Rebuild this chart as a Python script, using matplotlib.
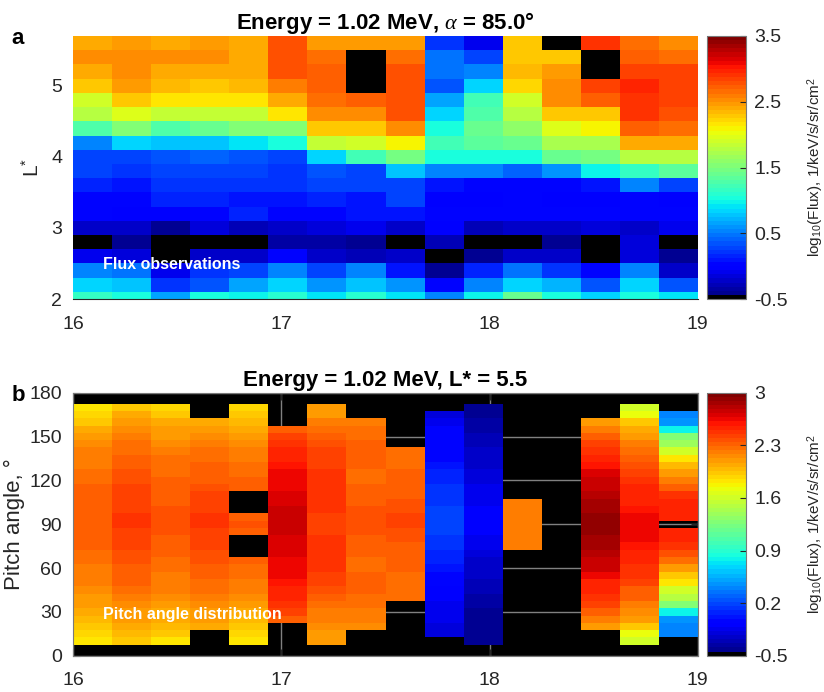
"""Flux observations (L* vs UT) and pitch angle distribution at L* = 5.5."""
import matplotlib
matplotlib.use("Agg")
import matplotlib.pyplot as plt
import numpy as np
from matplotlib.colors import ListedColormap

plt.rcParams["font.family"] = ["Liberation Sans", "DejaVu Sans"]
plt.rcParams["mathtext.fontset"] = "custom"
plt.rcParams["mathtext.rm"] = "Liberation Sans"
plt.rcParams["mathtext.it"] = "Liberation Serif:italic"
plt.rcParams["mathtext.bf"] = "Liberation Sans:bold"

nan = np.nan

# ---- data -------------------------------------------------------------
ut_hours = 16 + 0.1875 * (np.arange(16) + 0.5)          # column centres, h
lstar = [5.6, 5.4, 5.2, 5.0, 4.8, 4.6, 4.4, 4.2, 4.0, 3.8,
         3.6, 3.4, 3.2, 3.0, 2.8, 2.6, 2.4, 2.2, 2.0]
pitch = [170, 165, 160, 155, 150, 145, 140, 135, 130, 125, 120,
         115, 110, 105, 100, 95, 90, 85, 80, 75, 70, 65, 60, 55,
         50, 45, 40, 35, 30, 25, 20, 15, 10]

# log10 flux, one row per L* (top row = 5.6)
flux_l = [
    [2.40, 2.45, 2.40, 2.45, 2.40, 2.75, 2.45, 2.45, 2.45, 0.20, -0.10, 2.25, nan, 2.90, 2.65, 2.55],
    [2.50, 2.55, 2.50, 2.50, 2.40, 2.75, 2.65, nan, 2.65, 0.45, 0.25, 2.30, 2.30, nan, 2.70, 2.65],
    [2.40, 2.50, 2.40, 2.40, 2.40, 2.75, 2.70, nan, 2.80, 0.45, 0.50, 2.35, 2.45, nan, 2.85, 2.85],
    [2.30, 2.45, 2.35, 2.30, 2.35, 2.60, 2.70, nan, 2.80, 0.35, 0.85, 2.20, 2.50, 2.85, 2.95, 2.85],
    [1.90, 2.25, 2.15, 2.15, 2.15, 2.40, 2.65, 2.70, 2.80, 0.65, 1.20, 1.90, 2.50, 2.70, 2.90, 2.85],
    [1.75, 1.95, 1.85, 1.85, 1.85, 2.15, 2.50, 2.50, 2.75, 0.85, 1.30, 1.75, 2.30, 2.30, 2.90, 2.80],
    [1.30, 1.55, 1.30, 1.40, 1.55, 1.55, 2.30, 2.30, 2.50, 1.00, 1.40, 1.60, 1.95, 2.10, 2.70, 2.65],
    [0.55, 0.85, 0.80, 0.80, 0.90, 1.00, 1.85, 1.90, 2.10, 1.20, 1.35, 1.40, 1.70, 1.70, 2.40, 2.40],
    [0.30, 0.30, 0.35, 0.40, 0.35, 0.30, 0.85, 1.20, 1.45, 1.00, 1.00, 1.05, 1.40, 1.45, 1.75, 1.80],
    [0.25, 0.20, 0.25, 0.25, 0.25, 0.20, 0.35, 0.30, 0.75, 0.50, 0.50, 0.40, 0.62, 0.95, 1.15, 1.35],
    [0.15, 0.12, 0.20, 0.20, 0.20, 0.20, 0.30, 0.25, 0.30, 0.10, 0.05, 0.05, 0.05, 0.10, 0.55, 0.30],
    [0.05, 0.05, 0.15, 0.15, 0.10, 0.10, 0.15, 0.10, 0.25, -0.05, -0.05, 0.00, -0.05, -0.05, 0.00, -0.05],
    [0.05, -0.05, -0.05, 0.05, 0.15, 0.05, 0.05, 0.10, 0.12, 0.05, 0.05, 0.05, 0.00, 0.00, 0.00, 0.00],
    [-0.20, -0.25, -0.40, -0.15, -0.30, -0.20, -0.15, -0.10, -0.20, -0.05, -0.30, -0.20, -0.20, -0.15, -0.20, -0.10],
    [nan, -0.40, nan, nan, nan, -0.35, -0.35, -0.42, nan, -0.30, nan, nan, -0.42, nan, -0.15, nan],
    [-0.08, -0.15, nan, -0.20, -0.25, 0.00, -0.20, -0.30, -0.25, nan, -0.40, -0.20, -0.20, nan, -0.15, -0.40],
    [0.50, 0.45, -0.10, 0.20, 0.25, 0.50, 0.25, 0.50, 0.10, -0.42, 0.15, 0.45, 0.20, 0.00, 0.50, -0.20],
    [0.85, 0.80, 0.20, 0.35, 0.65, 0.85, 0.60, 0.80, 0.60, 0.05, 0.50, 0.82, 0.70, 0.35, 0.85, 0.35],
    [1.15, 1.00, 0.65, 1.00, 0.95, 1.10, 0.90, 1.10, 0.90, 0.55, 0.95, 1.40, 1.00, 0.85, 1.00, 0.90],
]

# log10 flux at L* = 5.5, one list per UT column (pitch 170 -> 10)
pad_c01 = [1.82, 1.86, 1.93, 2.02, 2.08, 2.14, 2.19, 2.21, 2.23, 2.26, 2.27, 2.30, 2.32, 2.32, 2.34, 2.34, 2.34,
           2.34, 2.32, 2.30, 2.27, 2.26, 2.23, 2.21, 2.19, 2.14, 2.12, 2.08, 2.04, 2.00, 1.93, 1.88, 1.82]
pad_c02 = [1.95, 2.02, 2.08, 2.14, 2.19, 2.24, 2.27, 2.32, 2.34, 2.37, 2.39, 2.40, 2.42, 2.43, 2.45, 2.46, 2.46,
           2.45, 2.43, 2.41, 2.39, 2.37, 2.34, 2.32, 2.30, 2.26, 2.21, 2.17, 2.12, 2.08, 2.02, 1.97, 1.91]
pad_c03 = [1.88, 1.95, 2.02, 2.08, 2.12, 2.17, 2.21, 2.24, 2.26, 2.27, 2.30, 2.32, 2.33, 2.34, 2.36, 2.37, 2.37,
           2.36, 2.34, 2.33, 2.30, 2.28, 2.26, 2.23, 2.21, 2.19, 2.15, 2.10, 2.06, 2.02, 1.97, 1.91, 1.84]
pad_c04 = [nan, nan, 2.04, 2.10, 2.17, 2.21, 2.26, 2.27, 2.30, 2.33, 2.34, 2.39, 2.40, 2.43, 2.45, 2.46, 2.46,
           2.45, 2.43, 2.40, 2.39, 2.37, 2.34, 2.32, 2.28, 2.25, 2.21, 2.17, 2.12, 2.08, 2.04, nan, nan]
pad_c05 = [1.88, 1.93, 2.00, 2.06, 2.10, 2.15, 2.19, 2.23, 2.26, 2.28, 2.30, 2.32, nan, nan, nan, 2.30, 2.37,
           2.30, nan, nan, nan, 2.30, 2.28, 2.26, 2.23, 2.19, 2.15, 2.10, 2.06, 2.00, 1.93, 1.88, 1.82]
pad_c06 = [nan, nan, nan, 2.34, 2.43, 2.49, 2.54, 2.56, 2.60, 2.63, 2.65, 2.67, 2.70, 2.72, 2.74, 2.74, 2.74,
           2.74, 2.72, 2.70, 2.68, 2.67, 2.65, 2.62, 2.59, 2.56, 2.54, 2.49, 2.43, 2.34, nan, nan, nan]
pad_c07 = [2.08, 2.12, 2.19, 2.26, 2.32, 2.37, 2.40, 2.43, 2.43, 2.46, 2.46, 2.46, 2.47, 2.47, 2.46, 2.43, 2.43,
           2.45, 2.46, 2.47, 2.47, 2.46, 2.46, 2.43, 2.40, 2.37, 2.32, 2.27, 2.23, 2.19, 2.14, 2.12, 2.08]
pad_c08 = [nan, nan, 2.21, 2.24, 2.27, 2.30, 2.30, 2.30, 2.30, 2.28, 2.28, 2.30, 2.32, 2.34, 2.37, 2.39, 2.39,
           2.37, 2.34, 2.32, 2.30, 2.28, 2.28, 2.30, 2.30, 2.30, 2.28, 2.26, 2.23, 2.21, 2.17, nan, nan]
pad_c09 = [nan, nan, nan, nan, nan, nan, 2.26, 2.27, 2.28, 2.30, 2.32, 2.33, 2.34, 2.37, 2.39, 2.40, 2.40,
           2.39, 2.37, 2.34, 2.33, 2.32, 2.30, 2.28, 2.27, 2.26, 2.26, nan, nan, nan, nan, nan, nan]
pad_c10 = [nan, -0.20, -0.15, -0.02, -0.02, -0.02, -0.06, -0.02, 0.04, 0.07, 0.10, 0.11, 0.13, 0.13, 0.16, 0.16, 0.16,
           0.16, 0.13, 0.11, 0.10, 0.07, 0.04, -0.02, -0.06, -0.07, -0.10, -0.12, -0.15, -0.17, -0.20, -0.20, nan]
pad_c11 = [-0.41, -0.40, -0.37, -0.34, -0.33, -0.31, -0.28, -0.26, -0.24, -0.22, -0.19, -0.17, -0.15, -0.12, -0.11, -0.09, -0.09,
           -0.11, -0.13, -0.17, -0.19, -0.24, -0.26, -0.28, -0.31, -0.33, -0.34, -0.37, -0.40, -0.41, -0.41, -0.43, -0.43]
pad_c12 = [nan, nan, nan, nan, nan, nan, nan, nan, nan, nan, nan, nan, nan, 2.23, 2.23, 2.23, 2.23,
           2.23, 2.23, 2.23, nan, nan, nan, nan, nan, nan, nan, nan, nan, nan, nan, nan, nan]
pad_c13 = [nan] * 33
pad_c14 = [nan, nan, 2.08, 2.23, 2.34, 2.43, 2.49, 2.53, 2.60, 2.70, 2.74, 2.78, 2.81, 2.84, 2.89, 2.91, 2.93,
           2.91, 2.89, 2.84, 2.81, 2.78, 2.74, 2.65, 2.56, 2.53, 2.49, 2.43, 2.34, 2.21, 2.08, nan, nan]
pad_c15 = [1.60, 1.69, 1.91, 2.04, 2.12, 2.19, 2.26, 2.30, 2.37, 2.43, 2.47, 2.52, 2.54, 2.56, 2.60, 2.63, 2.65,
           2.65, 2.63, 2.60, 2.56, 2.53, 2.49, 2.46, 2.40, 2.34, 2.30, 2.23, 2.17, 2.08, 1.95, 1.73, 1.60]
pad_c16 = [nan, 0.38, 0.46, 0.81, 1.25, 1.38, 1.60, 1.82, 2.00, 2.08, 2.21, 2.34, 2.47, 2.52, 2.52, 2.53, nan,
           2.52, 2.52, 2.47, 2.39, 2.26, 2.12, 1.95, 1.82, 1.60, 1.47, 1.25, 0.81, 0.46, 0.38, 0.38, nan]
pad_columns = [pad_c01, pad_c02, pad_c03, pad_c04, pad_c05, pad_c06, pad_c07, pad_c08,
               pad_c09, pad_c10, pad_c11, pad_c12, pad_c13, pad_c14, pad_c15, pad_c16]

cb1_ticks = [-0.5, 0.5, 1.5, 2.5, 3.5]
cb1_labels = ["-0.5", "0.5", "1.5", "2.5", "3.5"]
cb2_ticks = [-0.5, 0.2, 0.9, 1.6, 2.3, 3.0]
cb2_labels = ["-0.5", "0.2", "0.9", "1.6", "2.3", "3"]

# ---- colormap: jet(64) with black in the lowest slot ------------------
cols = plt.get_cmap("jet", 64)(np.arange(64))
cols[0] = [0, 0, 0, 1]
cmap = ListedColormap(cols)

DARK = "#262626"
W, H = 824, 692
fig = plt.figure(figsize=(W / 100, H / 100), dpi=100)


def px(left, top, right, bottom):
    return [left / W, 1 - bottom / H, (right - left) / W, (bottom - top) / H]


ax1 = fig.add_axes(px(73.3, 36, 697.7, 299))
cax1 = fig.add_axes(px(706.7, 36, 746, 299))
ax2 = fig.add_axes(px(73.3, 392.7, 697.7, 655.7))
cax2 = fig.add_axes(px(706.7, 392.7, 746, 655.7))

# ─── (a) flux vs L* ──────────────────────────────────────────────────
z1 = np.ma.masked_invalid(np.array(flux_l, dtype=float))
m1 = ax1.pcolormesh(ut_hours, lstar, z1, cmap=cmap, vmin=-0.5, vmax=3.5,
                    shading="nearest")
ax1.set_facecolor("black")
ax1.set_xlim(16, 19)
ax1.set_ylim(2, 5.7)
ax1.set_xticks([16, 17, 18, 19])
ax1.set_yticks([2, 3, 4, 5])
for s in ["top", "right", "left"]:
    ax1.spines[s].set_visible(False)
ax1.spines["bottom"].set_color(DARK)
ax1.tick_params(length=0, labelsize=14, labelcolor=DARK)
ax1.tick_params(axis="x", pad=12)
ax1.tick_params(axis="y", pad=8)
ax1.set_ylabel("L$^{*}$", fontsize=15, color=DARK, labelpad=6)
ax1.set_title(r"Energy = 1.02 MeV, $\alpha$ = 85.0°", fontsize=16,
              fontweight="bold", pad=5)
ax1.text(16.143, 2.49, "Flux observations", color="white", fontsize=11.5,
         fontweight="bold", va="center")

cb1 = fig.colorbar(m1, cax=cax1, ticks=cb1_ticks)
cb1.ax.set_yticklabels(cb1_labels)

# ─── (b) pitch angle distribution ───────────────────────────────────
z2 = np.ma.masked_invalid(np.array(pad_columns, dtype=float).T)
ax2.set_facecolor("black")
ax2.set_axisbelow(True)
ax2.grid(True, color="#808080", lw=1.0)
m2 = ax2.pcolormesh(ut_hours, pitch, z2, cmap=cmap, vmin=-0.5, vmax=3.0,
                    shading="nearest", zorder=1)
ax2.set_xlim(16, 19)
ax2.set_ylim(0, 180)
ax2.set_xticks([16, 17, 18, 19])
ax2.set_yticks(np.arange(0, 181, 30))
for s in ax2.spines.values():
    s.set_color("#7a7a7a")
ax2.tick_params(direction="in", length=5, color=DARK, labelsize=14,
                labelcolor=DARK, top=True, right=True)
ax2.tick_params(axis="x", pad=12)
ax2.tick_params(axis="y", pad=8)
ax2.set_ylabel("Pitch angle, °", fontsize=16, color=DARK, labelpad=3)
ax2.set_title("Energy = 1.02 MeV, L* = 5.5", fontsize=16,
              fontweight="bold", pad=5)
ax2.text(16.143, 28.5, "Pitch angle distribution", color="white",
         fontsize=11.5, fontweight="bold", va="center", zorder=3)

cb2 = fig.colorbar(m2, cax=cax2, ticks=cb2_ticks)
cb2.ax.set_yticklabels(cb2_labels)

for cb in (cb1, cb2):
    cb.outline.set_edgecolor("#7a7a7a")
    cb.ax.tick_params(direction="in", length=4, color=DARK, labelsize=14,
                      labelcolor=DARK, pad=6)
    cb.set_label(r"log$_{\mathrm{10}}$(Flux), 1/keV/s/sr/cm$^{\mathrm{2}}$",
                 fontsize=11, color=DARK, labelpad=12)

fig.text(0.021, 0.944, "a", fontsize=16, fontweight="bold", ha="center", va="center")
fig.text(0.022, 0.429, "b", fontsize=16, fontweight="bold", ha="center", va="center")

fig.savefig("out.png", dpi=100, facecolor="white")
